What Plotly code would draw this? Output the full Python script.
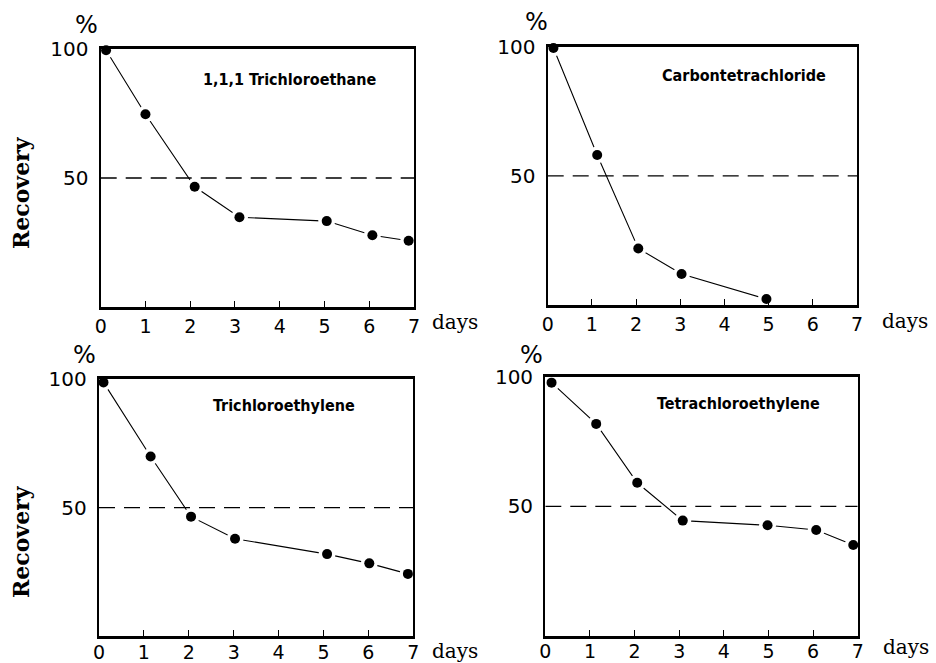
import plotly.graph_objects as go

W, H = 936, 663

# ---- data ----
titles = ["1,1,1 Trichloroethane", "Carbontetrachloride",
          "Trichloroethylene", "Tetrachloroethylene"]

tce111_days = [0.12, 1.0, 2.1, 3.1, 5.05, 6.07, 6.88]
tce111_rec = [99.5, 74.7, 46.6, 34.8, 33.3, 27.8, 25.7]

ccl4_days = [0.13, 1.12, 2.05, 3.03, 4.95]
ccl4_rec = [99.5, 58.1, 21.9, 12.0, 2.3]

tce_days = [0.1, 1.15, 2.05, 3.03, 5.08, 6.02, 6.88]
tce_rec = [98.8, 69.9, 46.5, 37.9, 31.9, 28.3, 24.2]

pce_days = [0.14, 1.14, 2.06, 3.08, 4.98, 6.07, 6.9]
pce_rec = [97.7, 81.8, 59.1, 44.5, 42.7, 40.9, 35.1]

x_ticks = [0, 1, 2, 3, 4, 5, 6, 7]
y_ticks = [50, 100]
threshold = 50

series = [(tce111_days, tce111_rec), (ccl4_days, ccl4_rec),
          (tce_days, tce_rec), (pce_days, pce_rec)]

# ---- layout geometry (pixels) ----
# (left, right, top, bottom)
boxes = [(100.7, 414.0, 49.0, 307.0),
         (547.7, 857.0, 46.7, 305.0),
         (99.0, 413.3, 379.3, 636.0),
         (545.3, 857.7, 376.7, 636.0)]
label_standoff = [0, 0, -3, -4]

def px(x):
    return x / W

def py(y):
    return 1 - y / H

fig = go.Figure()
layout = dict(width=W, height=H,
              margin=dict(l=0, r=0, t=0, b=0, autoexpand=False),
              paper_bgcolor="white", plot_bgcolor="white",
              showlegend=False, shapes=[], annotations=[])

tick_font = dict(family="DejaVu Sans", size=19, color="black")
ytick_font = dict(family="DejaVu Sans", size=20, color="black")

for i, ((xs, ys), (l, r, t, b)) in enumerate(zip(series, boxes)):
    n = "" if i == 0 else str(i + 1)
    xa, ya = "x" + n, "y" + n
    # connecting line
    fig.add_trace(go.Scatter(x=xs, y=ys, mode="lines", xaxis=xa, yaxis=ya,
                             line=dict(color="black", width=1.1),
                             cliponaxis=False, hoverinfo="skip"))
    # white halo making the small gaps around each dot
    fig.add_trace(go.Scatter(x=xs, y=ys, mode="markers", xaxis=xa, yaxis=ya,
                             marker=dict(color="white", size=17),
                             cliponaxis=False, hoverinfo="skip"))
    # dots
    fig.add_trace(go.Scatter(x=xs, y=ys, mode="markers", xaxis=xa, yaxis=ya,
                             marker=dict(color="black", size=10),
                             cliponaxis=False))

    xkey = "xaxis" + n
    ykey = "yaxis" + n
    layout[xkey] = dict(domain=[px(l), px(r)], range=[0, 7], anchor=ya,
                        showgrid=False, zeroline=False, showline=True,
                        mirror=True, linecolor="black", linewidth=2.6,
                        tickmode="array", tickvals=x_ticks,
                        ticktext=[str(v) for v in x_ticks],
                        ticks="inside", ticklen=6, tickwidth=1.3,
                        tickcolor="black", tickfont=tick_font,
                        ticklabelstandoff=label_standoff[i],
                        automargin=False, fixedrange=True)
    layout[ykey] = dict(domain=[py(b), py(t)], range=[0, 100], anchor=xa,
                        showgrid=False, zeroline=False, showline=True,
                        mirror=True, linecolor="black", linewidth=2.4,
                        tickmode="array", tickvals=y_ticks,
                        ticktext=[str(v) for v in y_ticks],
                        ticks="", tickfont=ytick_font,
                        ticklabelstandoff=6, automargin=False,
                        fixedrange=True)

    # dashed 50 % reference line
    layout["shapes"].append(dict(type="line", xref=xa, yref=ya,
                                 x0=0, x1=7, y0=threshold, y1=threshold,
                                 line=dict(color="black", width=1.3,
                                           dash="16px,9px"),
                                 layer="above"))

# ---- text ----
pct_pos = [(86.5, 25), (536, 22), (84, 355), (531, 355)]
title_pos = [(290, 79), (744, 75), (284, 405), (738, 404)]
days_pos = [(455, 322), (905, 321), (455, 651), (906, 647)]
rec_pos = [(21, 193), (21, 542)]

def ann(text, x, y, font, angle=0):
    return dict(text=text, x=px(x), y=py(y), xref="paper", yref="paper",
                xanchor="center", yanchor="middle", showarrow=False,
                textangle=angle, font=font)

for (x, y) in pct_pos:
    layout["annotations"].append(ann("%", x, y,
                                     dict(family="DejaVu Sans", size=24,
                                          color="black")))
for txt, (x, y) in zip(titles, title_pos):
    layout["annotations"].append(ann(
        "<b>" + txt + "</b>", x, y,
        dict(family="Liberation Sans Narrow, DejaVu Sans Condensed, Arial Narrow, sans-serif",
             size=16, color="black")))
for (x, y) in days_pos:
    layout["annotations"].append(ann("days", x, y,
                                     dict(family="DejaVu Serif", size=20,
                                          color="black")))
for (x, y) in rec_pos:
    layout["annotations"].append(ann("<b>Recovery</b>", x, y,
                                     dict(family="DejaVu Serif", size=22,
                                          color="black"), angle=-90))

fig.update_layout(**layout)
fig.write_html("out.html")
